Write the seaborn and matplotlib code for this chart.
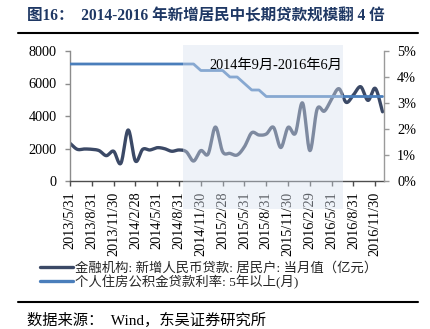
import numpy as np
import pandas as pd
import matplotlib
matplotlib.use("Agg")
import matplotlib.pyplot as plt
import matplotlib.transforms as mtransforms
from matplotlib.patches import Rectangle
from matplotlib.lines import Line2D
from matplotlib.ticker import FuncFormatter
import seaborn as sns

sns.set_theme(style="ticks")
plt.rcParams["font.family"] = ["Liberation Serif", "Noto Sans CJK SC"]
plt.rcParams["axes.unicode_minus"] = False

# Monthly observations, May 2013 - Dec 2016 (month-end dates)
month_ends = pd.date_range("2013-05-31", periods=44, freq="ME")

# New RMB loans to households, monthly (100 million yuan)
household_loans = [
    2320, 1950, 1970, 1950, 1870, 1560, 1830, 1090, 3140, 1230,
    1950, 1910, 2050, 1990, 1830, 1910, 1800, 1230, 1870, 1660,
    3320, 1800, 1700, 1600, 2110, 2970, 2830, 2890, 3300, 2060,
    3300, 2930, 4800, 1870, 4420, 4300, 5050, 5680, 4840, 5300,
    5800, 4960, 5700, 4260,
]

# Housing provident fund loan rate, over 5 years (%)
fund_rate = [
    4.5, 4.5, 4.5, 4.5, 4.5, 4.5, 4.5, 4.5, 4.5, 4.5,
    4.5, 4.5, 4.5, 4.5, 4.5, 4.5, 4.5, 4.5, 4.25, 4.25,
    4.25, 4.25, 4.0, 4.0, 3.75, 3.5, 3.5, 3.25, 3.25, 3.25,
    3.25, 3.25, 3.25, 3.25, 3.25, 3.25, 3.25, 3.25, 3.25, 3.25,
    3.25, 3.25, 3.25, 3.25,
]

series_names = [
    "金融机构: 新增人民币贷款: 居民户: 当月值（亿元）",
    "个人住房公积金贷款利率: 5年以上(月)",
]
highlight_label = "2014年9月-2016年6月"
highlight_first, highlight_last = 16, 37   # Sep 2014 .. Jun 2016
title_text = "图16：  2014-2016 年新增居民中长期贷款规模翻 4 倍"
source_text = "数据来源：  Wind，东吴证券研究所"

DARK = "#3b4966"
BLUE = "#4a7ebb"


def smoothed(values, steps=16):
    """Cubic Hermite (Catmull-Rom) curve through the points, like a smoothed line chart."""
    y = np.asarray(values, float)
    m = np.empty_like(y)
    m[1:-1] = (y[2:] - y[:-2]) / 2
    m[0] = y[1] - y[0]
    m[-1] = y[-1] - y[-2]
    t = np.linspace(0, 1, steps, endpoint=False)
    h00 = 2 * t**3 - 3 * t**2 + 1
    h10 = t**3 - 2 * t**2 + t
    h01 = -2 * t**3 + 3 * t**2
    h11 = t**3 - t**2
    xs, ys = [], []
    for i in range(len(y) - 1):
        xs.append(i + t)
        ys.append(h00 * y[i] + h10 * m[i] + h01 * y[i + 1] + h11 * m[i + 1])
    xs.append([len(y) - 1])
    ys.append([y[-1]])
    return np.concatenate(xs), np.concatenate(ys)


W, H = 430, 329
fig = plt.figure(figsize=(W / 100, H / 100), dpi=100)
fig.patch.set_facecolor("white")
ax = fig.add_axes([70 / W, 148 / H, 314 / W, 130 / H])
ax2 = ax.twinx()

lx, ly = smoothed(household_loans)
sns.lineplot(data=pd.DataFrame({"x": lx, "y": ly}), x="x", y="y", ax=ax,
             color=DARK, lw=2.4, estimator=None, sort=False)

rate_df = pd.DataFrame({"x": np.arange(len(fund_rate)), "y": np.array(fund_rate) / 100})
sns.lineplot(data=rate_df, x="x", y="y", ax=ax2, color=BLUE, lw=2.0,
             estimator=None, sort=False)

# Axes ranges and ticks
ax.set_xlim(0, 43.2)
ax.set_ylim(0, 8000)
ax.set_yticks(range(0, 8001, 2000))
tick_idx = list(range(0, len(month_ends), 3))
ax.set_xticks(tick_idx)
ax.set_xticklabels([f"{d.year}/{d.month}/{d.day}" for d in month_ends[tick_idx]],
                   rotation=90)
ax2.set_ylim(0, 0.05)
ax2.set_yticks(np.arange(0, 0.0501, 0.01))
ax2.yaxis.set_major_formatter(FuncFormatter(lambda v, _: f"{v * 100:.0f}%"))

for a in (ax, ax2):
    a.set_xlabel("")
    a.set_ylabel("")
    a.spines["top"].set_visible(False)
ax.spines["right"].set_visible(False)
ax2.spines["left"].set_visible(False)
ax2.spines["bottom"].set_visible(False)
ax.spines["left"].set_color("#8c8c8c")
ax.spines["bottom"].set_color("#4d4d4d")
ax2.spines["right"].set_color("#9a9a9a")
for s in ("left", "bottom"):
    ax.spines[s].set_linewidth(1.0)
ax2.spines["right"].set_linewidth(1.0)

ax.tick_params(axis="y", direction="out", length=3.5, width=1, color="#8c8c8c",
               pad=6, labelsize=10.3, labelcolor="black")
ax.tick_params(axis="x", direction="out", length=3.5, width=1, color="#4d4d4d",
               pad=4, labelsize=10.3, labelcolor="black")
ax2.tick_params(axis="y", direction="out", length=3.5, width=1, color="#9a9a9a",
                pad=6, labelsize=10.3, labelcolor="black")

# Highlighted period band, overlaying the lines and the date labels
band_tf = mtransforms.blended_transform_factory(ax2.transData, ax2.transAxes)
band = Rectangle((highlight_first - 0.5, -28 / 130),
                 highlight_last - highlight_first + 1, (28 + 136) / 130,
                 transform=band_tf, facecolor=(216 / 255, 225 / 255, 239 / 255),
                 alpha=0.43, lw=0, zorder=10, clip_on=False)
ax2.add_patch(band)
ax2.text(19.2, (181 - 65) / 130, highlight_label, transform=band_tf,
         ha="left", va="center", fontsize=10.3, color="black", zorder=12)

# Legend below the chart
handles = [Line2D([], [], color=DARK, lw=2.4), Line2D([], [], color=BLUE, lw=2.4)]
fig.legend(handles, series_names, loc="upper left",
           bbox_to_anchor=(40 / W, 1 - 262 / H), frameon=False,
           borderpad=0, borderaxespad=0, fontsize=9.6, handlelength=2.45,
           handletextpad=0.2, labelspacing=0.0)

# Title, rules and source note
fig.text(27 / W, 1 - 16 / H, title_text, fontsize=11.2, fontweight="bold",
         color="#1f3864", ha="left", va="center")
fig.add_artist(Line2D([18 / W, 418 / W], [1 - 32.5 / H] * 2, color="black", lw=1.5))
fig.add_artist(Line2D([18 / W, 418 / W], [1 - 301.5 / H] * 2, color="black", lw=1.5))
fig.text(27 / W, 1 - 325 / H, source_text, fontsize=11, color="black",
         ha="left", va="baseline")

fig.savefig("out.png", dpi=100, facecolor="white")
